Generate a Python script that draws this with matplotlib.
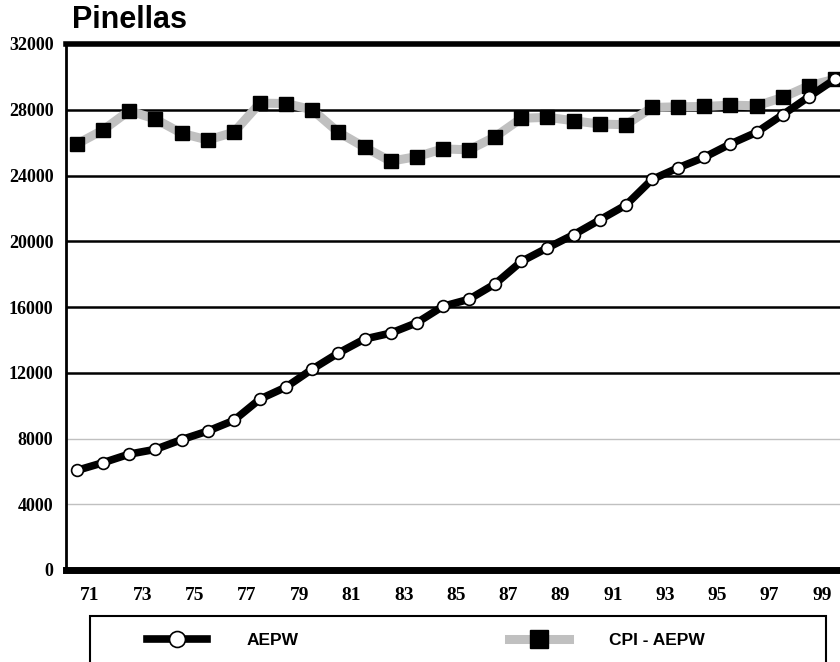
import numpy as np
import matplotlib
matplotlib.use('Agg')
import matplotlib.pyplot as plt
from matplotlib.patches import Rectangle

# values, one per year (30 points)
aepw = [6060, 6530, 7050, 7340, 7930, 8450, 9100, 10400, 11130, 12220,
        13200, 14050, 14410, 15040, 16040, 16470, 17410, 18770, 19600, 20400,
        21300, 22200, 23760, 24470, 25110, 25920, 26630, 27700, 28790, 29860]
cpi_aepw = [25920, 26770, 27940, 27430, 26570, 26160, 26630, 28400, 28380, 28000,
            26630, 25720, 24870, 25150, 25620, 25560, 26360, 27480, 27540, 27330,
            27130, 27090, 28140, 28180, 28200, 28280, 28240, 28750, 29460, 29860]
year_labels = ['71', '73', '75', '77', '79', '81', '83', '85', '87', '89',
               '91', '93', '95', '97', '99']
y_ticks = [0, 4000, 8000, 12000, 16000, 20000, 24000, 28000, 32000]

W, H = 840, 662
fig = plt.figure(figsize=(W / 100, H / 100), dpi=100)
ax = fig.add_axes([66 / W, 1 - 570 / H, 1 - 66 / W, (570 - 44) / H])

x = np.arange(len(aepw))
gray = '#c0c0c0'

l2, = ax.plot(x, cpi_aepw, color=gray, lw=6.5, marker='s', ms=10,
              mfc='black', mec='black', zorder=3, label='CPI - AEPW')
l1, = ax.plot(x, aepw, color='black', lw=5.5, marker='o', ms=8.5,
              mfc='white', mec='black', mew=1.2, zorder=4, label='AEPW')

ax.set_xlim(-0.42, 29.19)
ax.set_ylim(0, 32000)
ax.set_yticks(y_ticks)
ax.set_yticklabels([str(v) for v in y_ticks])
ax.set_xticks(np.arange(0.5, len(aepw), 2))
ax.set_xticklabels(year_labels)

for lab in ax.get_yticklabels():
    lab.set_fontfamily('Liberation Serif')
    lab.set_fontweight('bold')
    lab.set_fontsize(13)
for lab in ax.get_xticklabels():
    lab.set_fontfamily('Liberation Serif')
    lab.set_fontweight('bold')
    lab.set_fontsize(14)
ax.tick_params(axis='both', length=0)
ax.tick_params(axis='y', pad=9)
ax.tick_params(axis='x', pad=12)

# horizontal grid: light below 12000, black above
ax.grid(axis='y', zorder=1)
for gl, v in zip(ax.get_ygridlines(), y_ticks):
    if v < 12000:
        gl.set_color(gray)
        gl.set_linewidth(1.0)
    else:
        gl.set_color('black')
        gl.set_linewidth(1.8)
ax.set_axisbelow(True)

ax.spines['right'].set_visible(False)
ax.spines['top'].set_linewidth(4)
ax.spines['bottom'].set_linewidth(5)
ax.spines['left'].set_linewidth(2)
for s in ax.spines.values():
    s.set_color('black')

fig.text(72 / W, 1 - 28 / H, 'Pinellas', fontsize=22, fontweight='bold',
         family='Liberation Sans', ha='left', va='baseline')

# legend box runs off the bottom of the figure
fig.add_artist(Rectangle((90 / W, -0.05), (826 - 90) / W, (662 - 616) / H + 0.05,
                         transform=fig.transFigure, fill=False, ec='black',
                         lw=1.5, clip_on=False))
fig.legend(handles=[l1, l2], loc='center left',
           bbox_to_anchor=(147 / W, 1 - 640 / H), ncol=2, frameon=False,
           borderpad=0, borderaxespad=0, handlelength=3.45, handletextpad=2.3,
           columnspacing=12.1, markerscale=1.35,
           prop={'family': 'Liberation Sans', 'weight': 'bold', 'size': 12.5})

fig.savefig('out.png', dpi=100)
